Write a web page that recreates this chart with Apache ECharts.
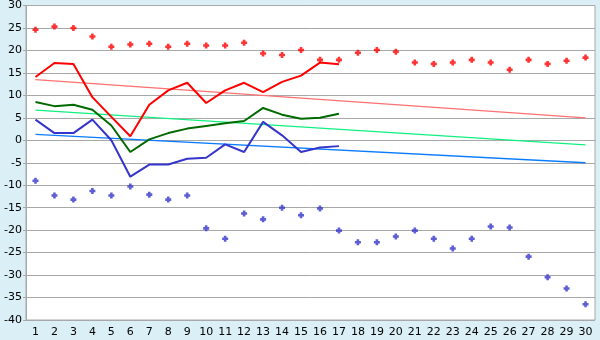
<!DOCTYPE html>
<html>
<head>
<meta charset="utf-8">
<script src="https://cdn.jsdelivr.net/npm/echarts@6/dist/echarts.min.js"></script>
<style>
html,body{margin:0;padding:0;background:#daeff6;}
#c{width:600px;height:340px;}
</style>
</head>
<body>
<div id="c"></div>
<script>
var categories = ['1','2','3','4','5','6','7','8','9','10','11','12','13','14','15','16','17','18','19','20','21','22','23','24','25','26','27','28','29','30'];
var redLine = [14.1,17.2,17.0,9.6,5.2,0.9,7.9,11.1,12.8,8.3,11.1,12.8,10.7,13.0,14.4,17.3,16.9];
var greenLine = [8.5,7.6,7.9,6.8,3.3,-2.6,0.2,1.6,2.6,3.2,3.8,4.3,7.2,5.7,4.8,5.0,5.9];
var blueLine = [4.6,1.6,1.6,4.6,0.0,-8.1,-5.4,-5.4,-4.1,-3.9,-0.9,-2.6,4.1,1.1,-2.6,-1.6,-1.3];
var redPoints = [24.6,25.3,25.0,23.1,20.8,21.3,21.5,20.8,21.5,21.1,21.1,21.7,19.3,19.0,20.1,17.9,17.9,19.5,20.1,19.7,17.3,17.0,17.3,17.9,17.3,15.7,17.9,17.0,17.7,18.4];
var bluePoints = [-9.0,-12.3,-13.2,-11.3,-12.3,-10.3,-12.1,-13.2,-12.3,-19.6,-21.9,-16.3,-17.6,-15.0,-16.7,-15.2,-20.1,-22.7,-22.7,-21.4,-20.1,-21.9,-24.1,-21.9,-19.2,-19.4,-25.9,-30.5,-33.0,-36.5];
var redTrend = [13.5, 5.0];
var greenTrend = [6.7, -1.0];
var blueTrend = [1.3, -5.0];
var yTicks = {min:-40, max:30, interval:5};

function trend(v){ return [[categories[0], v[0]], [categories[categories.length-1], v[1]]]; }

var chart = echarts.init(document.getElementById('c'), null, {renderer:'canvas'});
var font = 'DejaVu Sans';
var marker = 'path://M2,0H5V2H7V5H5V7H2V5H0V2H2Z';
chart.setOption({
  animation:false,
  backgroundColor:'#daeff6',
  grid:{left:26,right:5,top:5,bottom:20,show:true,backgroundColor:'#ffffff',borderColor:'#a8a8a8',borderWidth:1},
  xAxis:{type:'category',data:categories,boundaryGap:true,
    axisLine:{lineStyle:{color:'#a8a8a8',width:1}},
    axisTick:{alignWithLabel:true,length:6,lineStyle:{color:'#000000'}},
    axisLabel:{color:'#000',fontFamily:font,fontSize:11,margin:7,interval:0},
    splitLine:{show:false}},
  yAxis:{type:'value',min:yTicks.min,max:yTicks.max,interval:yTicks.interval,
    axisLine:{show:true,lineStyle:{color:'#a8a8a8'}},
    axisTick:{show:true,length:3,lineStyle:{color:'#a8a8a8'}},
    axisLabel:{color:'#000',fontFamily:font,fontSize:11,margin:4},
    splitLine:{lineStyle:{color:'#a8a8a8',width:1}}},
  series:[
    {type:'line',data:trend(redTrend),symbol:'none',lineStyle:{color:'#ff7070',width:1.3},z:1},
    {type:'line',data:trend(greenTrend),symbol:'none',lineStyle:{color:'#10f080',width:1.3},z:1},
    {type:'line',data:trend(blueTrend),symbol:'none',lineStyle:{color:'#0a7cff',width:1.3},z:1},
    {type:'line',data:redLine,symbol:'none',lineStyle:{color:'#ff0000',width:2},z:3},
    {type:'line',data:greenLine,symbol:'none',lineStyle:{color:'#006a00',width:2},z:3},
    {type:'line',data:blueLine,symbol:'none',lineStyle:{color:'#3535cc',width:2},z:3},
    {type:'scatter',data:redPoints,symbol:marker,symbolSize:6,itemStyle:{color:'#ff0000'},z:4},
    {type:'scatter',data:bluePoints,symbol:marker,symbolSize:6,itemStyle:{color:'#3535cc'},z:4}
  ]
});
</script>
</body>
</html>
